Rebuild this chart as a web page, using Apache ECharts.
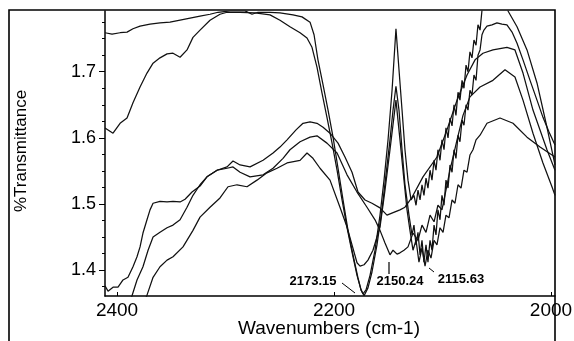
<!DOCTYPE html>
<html>
<head>
<meta charset="utf-8">
<script src="https://cdn.jsdelivr.net/npm/echarts@6/dist/echarts.min.js"></script>
<style>
  html, body { margin: 0; padding: 0; background: #fff; }
  #main { width: 574px; height: 341px; }
</style>
</head>
<body>
<div id="main"></div>
<script>
// tick labels
var xTicks = [2000, 2200, 2400];
var yTicks = [1.4, 1.5, 1.6, 1.7];
var yMinor = [1.375, 1.425, 1.45, 1.475, 1.525, 1.55, 1.575, 1.625, 1.65, 1.675, 1.725, 1.75, 1.775];

// peak labels
var peakLabels = ['2173.15', '2150.24', '2115.63'];

// spectra: [wavenumber, %T]
var spec1 = [[2411.1,1.759],[2404.6,1.757],[2397.2,1.759],[2390.8,1.760],[2385.3,1.765],[2378.8,1.769],[2369.6,1.772],[2360.4,1.774],[2351.2,1.775],[2341.9,1.778],[2332.7,1.781],[2323.5,1.784],[2314.3,1.787],[2306.9,1.790],[2295.9,1.792],[2282.0,1.792],[2275.6,1.787],[2270.1,1.790],[2259.0,1.790],[2249.8,1.789],[2237.8,1.786],[2229.5,1.783],[2222.1,1.775],[2218.4,1.756],[2214.8,1.718],[2210.1,1.680],[2205.5,1.642],[2200.9,1.601],[2196.3,1.554],[2191.7,1.506],[2187.1,1.460],[2182.5,1.423],[2177.9,1.388],[2175.1,1.370],[2173.3,1.364],[2170.5,1.370],[2166.8,1.392],[2162.2,1.430],[2157.6,1.483],[2153.9,1.536],[2150.2,1.597],[2146.5,1.672],[2142.9,1.765],[2140.1,1.703],[2137.3,1.642],[2134.6,1.582],[2131.8,1.536],[2129.0,1.506],
  [2126.3,1.513],[2124.4,1.498],[2122.6,1.521],[2120.7,1.506],[2118.9,1.529],[2117.1,1.513],[2115.2,1.539],[2113.4,1.524],[2111.5,1.551],[2109.7,1.536],[2107.8,1.566],[2106.0,1.551],[2104.2,1.582],[2102.3,1.566],[2100.5,1.597],[2098.6,1.582],[2096.8,1.615],[2094.9,1.600],[2093.1,1.630],[2091.2,1.618],[2089.4,1.650],[2087.6,1.634],[2085.7,1.669],[2083.9,1.657],[2082.0,1.687],[2080.2,1.675],[2078.3,1.710],[2076.5,1.700],[2074.7,1.730],[2072.8,1.721],[2071.0,1.748],[2069.1,1.740],[2067.3,1.771],[2065.4,1.763],[2063.6,1.793],[2059.9,1.809],[2051.6,1.824],[2042.4,1.809],[2039.6,1.792],[2031.3,1.768],[2022.1,1.733],[2012.9,1.683],[2003.7,1.616],[1996.3,1.559]];

var spec2 = [[2411.1,1.615],[2403.7,1.607],[2397.2,1.622],[2390.8,1.630],[2385.3,1.653],[2378.8,1.677],[2372.4,1.698],[2366.8,1.713],[2360.4,1.721],[2353.9,1.727],[2348.4,1.728],[2341.9,1.722],[2335.5,1.733],[2330.0,1.752],[2323.5,1.763],[2314.3,1.778],[2305.1,1.787],[2298.6,1.790],[2286.6,1.790],[2272.8,1.789],[2259.0,1.786],[2249.8,1.778],[2240.6,1.768],[2231.3,1.759],[2224.9,1.751],[2220.3,1.737],[2215.7,1.707],[2211.1,1.668],[2206.5,1.631],[2201.8,1.592],[2197.2,1.551],[2192.6,1.506],[2188.0,1.464],[2183.4,1.427],[2178.8,1.392],[2175.1,1.370],[2172.3,1.361],[2168.7,1.373],[2165.0,1.397],[2160.4,1.438],[2155.8,1.491],[2152.1,1.544],[2148.4,1.597],[2145.6,1.642],[2142.9,1.678],[2140.1,1.642],[2137.3,1.582],[2134.6,1.529],[2130.9,1.483],
  [2128.1,1.453],[2126.3,1.468],[2124.4,1.438],[2122.6,1.457],[2120.7,1.423],[2118.9,1.445],[2117.1,1.412],[2115.2,1.438],[2113.4,1.412],[2111.5,1.445],[2109.7,1.430],[2107.8,1.468],[2106.0,1.453],[2104.2,1.491],[2102.3,1.476],[2100.5,1.513],[2098.6,1.498],[2096.8,1.536],[2094.9,1.524],[2093.1,1.559],[2091.2,1.548],[2089.4,1.582],[2087.6,1.569],[2085.7,1.604],[2083.9,1.594],[2082.0,1.627],[2080.2,1.619],[2078.3,1.650],[2076.5,1.642],[2074.7,1.672],[2072.8,1.665],[2071.0,1.695],[2069.1,1.687],[2067.3,1.725],[2065.4,1.733],[2063.6,1.756],[2061.8,1.763],[2059.0,1.769],[2054.4,1.771],[2049.8,1.774],[2045.2,1.772],[2040.6,1.771],[2035.9,1.760],[2031.3,1.743],[2025.8,1.718],[2019.3,1.687],[2012.9,1.657],[2007.4,1.631],[2001.8,1.609],[1996.3,1.589]];

var spec3 = [[2411.1,1.376],[2408.3,1.368],[2403.7,1.374],[2399.1,1.374],[2394.5,1.385],[2389.9,1.389],[2385.3,1.405],[2381.6,1.420],[2378.8,1.435],[2376.1,1.456],[2372.4,1.476],[2369.6,1.491],[2366.8,1.501],[2360.4,1.504],[2353.9,1.503],[2348.4,1.504],[2341.9,1.503],[2337.3,1.507],[2330.9,1.518],[2323.5,1.527],[2317.1,1.541],[2307.8,1.551],[2298.6,1.556],[2293.1,1.565],[2286.6,1.559],[2277.4,1.556],[2265.4,1.566],[2256.2,1.577],[2249.8,1.586],[2243.3,1.597],[2235.0,1.612],[2228.6,1.622],[2222.1,1.624],[2215.7,1.622],[2210.1,1.616],[2203.7,1.607],[2196.3,1.592],[2189.9,1.571],[2183.4,1.548],[2177.9,1.518],[2171.4,1.506],[2165.0,1.501],[2157.6,1.494],[2151.2,1.483],[2143.8,1.488],[2139.2,1.491],[2134.6,1.495],[2128.1,1.510],[2118.0,1.541],[2105.1,1.571],[2095.9,1.612],[2086.6,1.657],[2077.4,1.695],[2070.0,1.718],[2062.7,1.728],[2053.5,1.733],[2040.6,1.737],[2033.2,1.733],[2025.8,1.698],[2016.6,1.642],[2003.7,1.582],[1996.3,1.551]];

var spec4 = [[2389.9,1.347],[2386.2,1.361],[2381.6,1.385],[2376.1,1.405],[2371.4,1.430],[2366.8,1.450],[2360.4,1.457],[2353.9,1.464],[2348.4,1.468],[2341.9,1.476],[2335.5,1.495],[2330.0,1.513],[2323.5,1.529],[2317.1,1.541],[2307.8,1.551],[2298.6,1.554],[2293.1,1.556],[2286.6,1.548],[2277.4,1.541],[2265.4,1.544],[2256.2,1.554],[2247.0,1.569],[2240.6,1.582],[2231.3,1.594],[2222.1,1.601],[2215.7,1.603],[2206.5,1.592],[2197.2,1.577],[2188.0,1.544],[2178.8,1.518],[2169.6,1.495],[2162.2,1.476],[2157.6,1.460],[2153.0,1.441],[2148.4,1.423],[2145.6,1.430],[2141.9,1.424],[2139.2,1.426],[2135.5,1.430],[2131.8,1.435],[2127.2,1.456],[2122.6,1.445],[2118.9,1.468],[2115.2,1.457],[2111.5,1.483],[2107.8,1.473],[2104.2,1.498],[2100.5,1.491],[2096.8,1.521],[2093.1,1.551],[2086.6,1.597],[2081.1,1.634],[2074.7,1.662],[2065.4,1.677],[2053.5,1.687],[2042.4,1.703],[2033.2,1.692],[2025.8,1.657],[2016.6,1.607],[2007.4,1.562],[1999.1,1.526],[1996.3,1.513]];

var spec5 = [[2376.1,1.347],[2372.4,1.362],[2366.8,1.389],[2360.4,1.405],[2353.9,1.415],[2348.4,1.420],[2339.2,1.435],[2330.0,1.460],[2323.5,1.480],[2314.3,1.495],[2305.1,1.509],[2297.7,1.526],[2289.4,1.529],[2280.2,1.526],[2271.0,1.536],[2261.8,1.547],[2252.5,1.554],[2243.3,1.562],[2231.3,1.566],[2224.9,1.577],[2219.4,1.569],[2212.9,1.554],[2203.7,1.536],[2194.5,1.495],[2188.0,1.465],[2183.4,1.438],[2178.8,1.411],[2176.0,1.406],[2172.3,1.408],[2168.7,1.415],[2164.1,1.430],[2160.4,1.450],[2157.6,1.465],[2153.0,1.521],[2148.4,1.582],[2142.9,1.657],[2139.2,1.597],[2135.5,1.536],[2132.7,1.491],[2130.0,1.460],
  [2127.2,1.430],[2124.4,1.445],[2121.7,1.412],[2118.9,1.433],[2116.1,1.406],[2113.4,1.430],[2110.6,1.418],[2107.8,1.445],[2105.1,1.438],[2102.3,1.464],[2099.5,1.457],[2096.8,1.483],[2094.0,1.479],[2091.2,1.506],[2088.5,1.501],[2085.7,1.529],[2082.9,1.524],[2080.2,1.551],[2077.4,1.548],[2074.7,1.574],[2071.9,1.582],[2069.1,1.597],[2065.4,1.604],[2059.0,1.622],[2047.0,1.630],[2035.0,1.622],[2022.1,1.601],[2010.1,1.586],[1996.3,1.571]];

var allSpectra = [spec1, spec2, spec3, spec4, spec5];

var font = '"Liberation Sans", Arial, sans-serif';

function makeSeries() {
    var list = [];
    for (var i = 0; i < allSpectra.length; i++) {
        list.push({
            type: 'line',
            data: allSpectra[i],
            showSymbol: false,
            clip: true,
            lineStyle: { color: '#111', width: 1.25 },
            silent: true
        });
    }
    return list;
}

var chart = echarts.init(document.getElementById('main'), null, { renderer: 'canvas' });

var option = {
    animation: false,
    backgroundColor: '#fff',
    grid: { left: 105, top: 11, right: 19, bottom: 45, containLabel: false, outerBoundsMode: 'none' },
    xAxis: {
        type: 'value',
        inverse: true,
        min: 1996.3,
        max: 2411.1,
        axisLine: { lineStyle: { color: '#000', width: 1.5 } },
        axisTick: { show: true, inside: true, length: 4, customValues: xTicks, lineStyle: { color: '#000' } },
        axisLabel: {
            customValues: xTicks, color: '#000', fontSize: 19, fontFamily: font, margin: 5,
            formatter: function (v) { return String(v); }
        },
        splitLine: { show: false }
    },
    yAxis: [
        {
            type: 'value',
            min: 1.3607,
            max: 1.7919,
            axisLine: { show: true, lineStyle: { color: '#000', width: 1.5 } },
            axisTick: { show: true, length: 6, customValues: yTicks, lineStyle: { color: '#000' } },
            axisLabel: {
                customValues: yTicks, color: '#000', fontSize: 18, fontFamily: font, margin: 9,
                formatter: function (v) { return v.toFixed(1); }
            },
            splitLine: { show: false }
        },
        {
            type: 'value',
            position: 'left',
            min: 1.3607,
            max: 1.7919,
            axisLine: { show: false },
            axisTick: { show: true, length: 3, customValues: yMinor, lineStyle: { color: '#000' } },
            axisLabel: { show: false },
            splitLine: { show: false }
        }
    ],
    series: makeSeries(),
    graphic: [
        // outer frame
        { type: 'rect', shape: { x: 9, y: 10, width: 546, height: 345 }, style: { fill: null, stroke: '#000', lineWidth: 1.6 }, silent: true },
        { type: 'text', x: 21, y: 151, rotation: Math.PI / 2,
          style: { text: '%Transmittance', fill: '#000', font: '17px ' + font, align: 'center', verticalAlign: 'middle' } },
        { type: 'text', x: 329, y: 329,
          style: { text: 'Wavenumbers (cm-1)', fill: '#000', font: '19px ' + font, align: 'center', verticalAlign: 'middle' } },
        // peak labels
        { type: 'text', x: 313, y: 281, style: { text: peakLabels[0], fill: '#000', font: 'bold 13px ' + font, align: 'center', verticalAlign: 'middle' } },
        { type: 'line', shape: { x1: 342, y1: 283, x2: 355, y2: 293 }, style: { stroke: '#000', lineWidth: 1 } },
        { type: 'text', x: 400, y: 281, style: { text: peakLabels[1], fill: '#000', font: 'bold 13px ' + font, align: 'center', verticalAlign: 'middle' } },
        { type: 'line', shape: { x1: 389, y1: 262, x2: 389, y2: 274 }, style: { stroke: '#000', lineWidth: 1.2 } },
        { type: 'text', x: 461, y: 279, style: { text: peakLabels[2], fill: '#000', font: 'bold 13px ' + font, align: 'center', verticalAlign: 'middle' } },
        { type: 'line', shape: { x1: 429, y1: 268, x2: 434, y2: 272 }, style: { stroke: '#000', lineWidth: 1 } }
    ]
};

chart.setOption(option);
</script>
</body>
</html>
